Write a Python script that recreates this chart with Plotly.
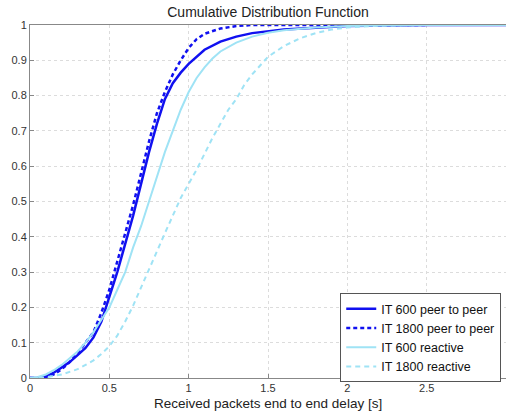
import plotly.graph_objects as go

# Data
x_p2p600 = [0, 0.05, 0.1, 0.15, 0.2, 0.25, 0.3, 0.35, 0.4, 0.45, 0.5, 0.55, 0.6, 0.65, 0.7, 0.75, 0.8, 0.85, 0.9, 0.95, 1.0, 1.05, 1.1, 1.2, 1.3, 1.4, 1.5, 1.6, 1.8, 2.0, 2.5, 3.0]
y_p2p600 = [0, 0.0, 0.005, 0.015, 0.03, 0.045, 0.065, 0.085, 0.115, 0.16, 0.23, 0.3, 0.38, 0.46, 0.55, 0.64, 0.72, 0.79, 0.835, 0.865, 0.89, 0.91, 0.93, 0.953, 0.967, 0.977, 0.983, 0.987, 0.992, 0.997, 1.0, 1.0]

x_p2p1800 = [0, 0.05, 0.1, 0.15, 0.2, 0.25, 0.3, 0.35, 0.4, 0.45, 0.5, 0.55, 0.6, 0.65, 0.7, 0.75, 0.8, 0.85, 0.9, 0.95, 1.0, 1.05, 1.1, 1.2, 1.3, 1.4, 2.0, 2.5]
y_p2p1800 = [0, 0.0, 0.003, 0.01, 0.025, 0.045, 0.07, 0.1, 0.13, 0.185, 0.25, 0.33, 0.41, 0.49, 0.58, 0.67, 0.75, 0.81, 0.86, 0.9, 0.935, 0.96, 0.975, 0.99, 0.997, 1.0, 1.0, 1.0]

x_re600 = [0, 0.05, 0.1, 0.15, 0.2, 0.25, 0.3, 0.35, 0.4, 0.45, 0.5, 0.55, 0.6, 0.65, 0.7, 0.75, 0.8, 0.85, 0.9, 0.95, 1.0, 1.05, 1.1, 1.15, 1.2, 1.3, 1.4, 1.5, 1.6, 1.7, 1.8, 2.0, 2.5, 3.0]
y_re600 = [0, 0.003, 0.01, 0.022, 0.037, 0.055, 0.075, 0.1, 0.13, 0.165, 0.2, 0.25, 0.3, 0.37, 0.43, 0.5, 0.57, 0.64, 0.7, 0.76, 0.81, 0.85, 0.88, 0.905, 0.925, 0.95, 0.967, 0.978, 0.985, 0.99, 0.993, 0.997, 1.0, 1.0]

x_re1800 = [0, 0.1, 0.2, 0.3, 0.35, 0.4, 0.45, 0.5, 0.55, 0.6, 0.65, 0.7, 0.75, 0.8, 0.85, 0.9, 0.95, 1.0, 1.05, 1.1, 1.15, 1.2, 1.25, 1.3, 1.35, 1.4, 1.45, 1.5, 1.6, 1.7, 1.8, 1.9, 2.0, 2.2, 2.5, 3.0]
y_re1800 = [0, 0.002, 0.01, 0.025, 0.037, 0.05, 0.068, 0.09, 0.12, 0.16, 0.205, 0.255, 0.31, 0.36, 0.41, 0.46, 0.51, 0.55, 0.59, 0.635, 0.68, 0.72, 0.76, 0.79, 0.83, 0.86, 0.885, 0.91, 0.94, 0.962, 0.977, 0.987, 0.993, 0.998, 1.0, 1.0]

names = ["IT 600 peer to peer", "IT 1800 peer to peer", "IT 600 reactive", "IT 1800 reactive"]
x_ticks = [0, 0.5, 1, 1.5, 2, 2.5, 3]
x_tick_labels = ["0", "0.5", "1", "1.5", "2", "2.5", "3"]
y_ticks = [0, 0.1, 0.2, 0.3, 0.4, 0.5, 0.6, 0.7, 0.8, 0.9, 1]
y_tick_labels = ["0", "0.1", "0.2", "0.3", "0.4", "0.5", "0.6", "0.7", "0.8", "0.9", "1"]
title_text = "Cumulative Distribution Function"
x_title_text = "Received packets end to end delay [s]"

BLUE = "#1010f0"
LIGHT = "#9fe3f5"
FONT = "Liberation Sans, Arial, sans-serif"

fig = go.Figure()
fig.add_trace(go.Scatter(x=x_p2p600, y=y_p2p600, mode="lines", name=names[0],
                         line=dict(color=BLUE, width=2.5)))
fig.add_trace(go.Scatter(x=x_p2p1800, y=y_p2p1800, mode="lines", name=names[1],
                         line=dict(color=BLUE, width=2.5, dash="4px,3px")))
fig.add_trace(go.Scatter(x=x_re600, y=y_re600, mode="lines", name=names[2],
                         line=dict(color=LIGHT, width=2)))
fig.add_trace(go.Scatter(x=x_re1800, y=y_re1800, mode="lines", name=names[3],
                         line=dict(color=LIGHT, width=2, dash="5px,4px")))

axis_common = dict(
    showgrid=True, gridcolor="#dcdcdc", griddash="dot", gridwidth=1,
    showline=True, linecolor="#888888", linewidth=1, mirror=True,
    ticks="inside", ticklen=4, tickcolor="#888888",
    tickfont=dict(family=FONT, size=11, color="#333333"),
    zeroline=False,
)

fig.update_layout(
    width=506, height=412,
    margin=dict(l=30, r=0, t=25, b=34),
    paper_bgcolor="white", plot_bgcolor="white",
    title=dict(text=title_text, x=0.5, xanchor="center", xref="paper",
               y=1 - 12 / 412, yanchor="middle",
               font=dict(family=FONT, size=14, color="#222222")),
    xaxis=dict(range=[0, 3], tickvals=x_ticks, ticktext=x_tick_labels, **axis_common),
    yaxis=dict(range=[0, 1], tickvals=y_ticks, ticktext=y_tick_labels, **axis_common),
    legend=dict(x=0.99, y=-0.012, xanchor="right", yanchor="bottom",
                bgcolor="white", bordercolor="#555555", borderwidth=1,
                font=dict(family=FONT, size=12.5, color="#111111"),
                tracegroupgap=0, itemwidth=30),
    showlegend=True,
)
fig.add_annotation(text=x_title_text, xref="paper", yref="paper",
                   x=0.5, y=-(403 - 378) / 353, xanchor="center", yanchor="middle",
                   showarrow=False, font=dict(family=FONT, size=13.5, color="#222222"))

fig.write_html("out.html", config={"displayModeBar": False},
               post_script="document.body.style.margin='0';document.body.style.overflow='hidden';")
